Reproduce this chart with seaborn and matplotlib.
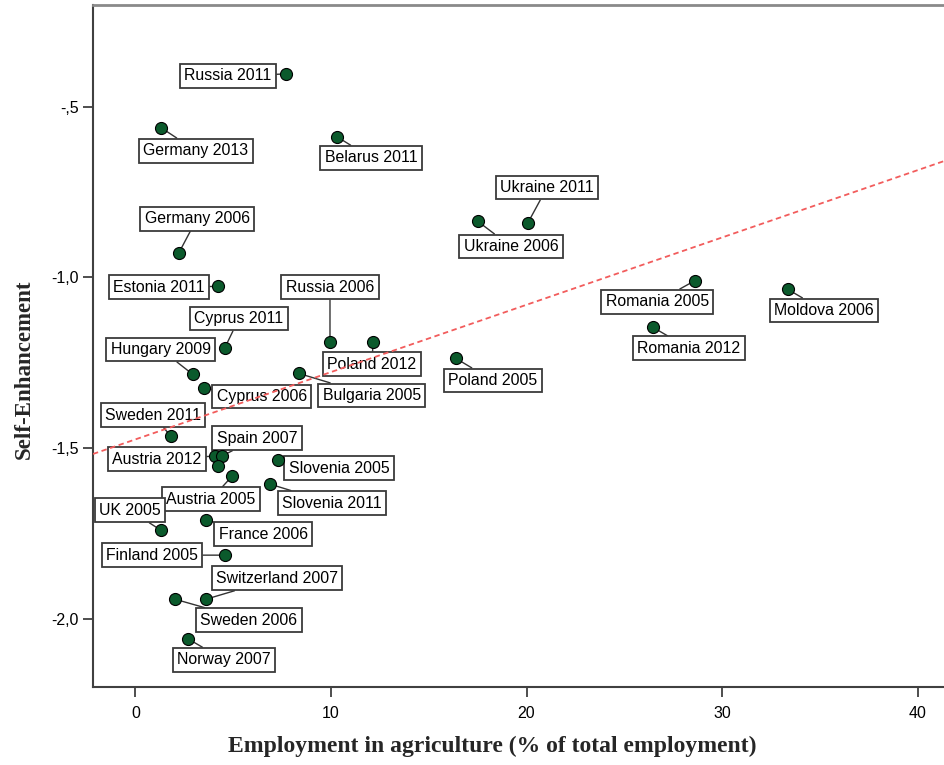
import matplotlib
matplotlib.use('Agg')
import matplotlib.pyplot as plt
import seaborn as sns
import pandas as pd

countries = ['Russia 2011', 'Germany 2013', 'Belarus 2011', 'Ukraine 2011', 'Ukraine 2006',
             'Germany 2006', 'Estonia 2011', 'Romania 2005', 'Moldova 2006', 'Romania 2012',
             'Russia 2006', 'Poland 2012', 'Cyprus 2011', 'Poland 2005', 'Hungary 2009',
             'Bulgaria 2005', 'Cyprus 2006', 'Sweden 2011', 'Austria 2012', 'Spain 2007',
             '', 'Slovenia 2005', 'Austria 2005', 'Slovenia 2011', 'UK 2005',
             'France 2006', 'Finland 2005', 'Switzerland 2007', 'Sweden 2006', 'Norway 2007']
agri_employment = [7.70, 1.30, 10.31, 20.08, 17.52,
                   2.23, 4.22, 28.62, 33.37, 26.47,
                   9.95, 12.15, 4.58, 16.39, 2.94,
                   8.36, 3.50, 1.82, 4.07, 4.42,
                   4.22, 7.29, 4.94, 6.88, 1.30,
                   3.61, 4.58, 3.61, 2.02, 2.69]
self_enhancement = [-0.404, -0.561, -0.588, -0.839, -0.836,
                    -0.927, -1.026, -1.009, -1.035, -1.146,
                    -1.190, -1.190, -1.205, -1.237, -1.284,
                    -1.281, -1.325, -1.465, -1.523, -1.523,
                    -1.553, -1.535, -1.582, -1.605, -1.740,
                    -1.711, -1.813, -1.942, -1.942, -2.058]

x_ticks = [0, 10, 20, 30, 40]
x_tick_labels = ['0', '10', '20', '30', '40']
y_ticks = [-2.0, -1.5, -1.0, -0.5]
y_tick_labels = ['-2,0', '-1,5', '-1,0', '-,5']

# where each label box sits relative to its point (pixels, right / up)
label_offsets = [(-58, -2), (35, -23), (34, -21), (19, 35), (33, -25),
                 (18, 34), (-59, -1), (-38, -21), (36, -21), (36, -21),
                 (0, 55), (-1, -22), (14, 29), (37, -22), (-32, 25),
                 (73, -22), (58, -8), (-18, 21), (-58, -3), (35, 18),
                 (0, 0), (61, -8), (-21, -23), (62, -19), (-31, 20),
                 (57, -14), (-73, 0), (71, 21), (74, -21), (36, -21)]

df = pd.DataFrame({'country': countries, 'agri': agri_employment, 'se': self_enhancement})

sns.set_theme(style='white')
plt.rcParams['font.family'] = ['Liberation Sans', 'DejaVu Sans']

fig = plt.figure(figsize=(9.44, 7.65), dpi=100)
ax = fig.add_axes([0.0985, 0.102, 0.9015, 0.8915])
ax.set_xlim(-2.17, 41.35)
ax.set_ylim(-2.199, -0.202)

sns.scatterplot(data=df, x='agri', y='se', s=75, color='#0b5a2c', edgecolor='black',
                linewidth=0.8, zorder=5, ax=ax)
sns.regplot(data=df, x='agri', y='se', scatter=False, ci=None, truncate=False,
            line_kws=dict(color='#f25c5c', lw=1.3, ls=(0, (3, 2)), zorder=4), ax=ax)
ax.set_xlim(-2.17, 41.35)
ax.set_ylim(-2.199, -0.202)

# boxed point labels with leader lines
for name, x, y, (dx, dy) in zip(countries, agri_employment, self_enhancement, label_offsets):
    if not name:
        continue
    ax.annotate(name, xy=(x, y), xytext=(dx, dy), textcoords='offset pixels',
                ha='center', va='center', fontsize=11.4, color='black',
                bbox=dict(boxstyle='square,pad=0.28', fc='white', ec='#3a3a3a', lw=1.3),
                arrowprops=dict(arrowstyle='-', color='#333333', lw=1, shrinkA=0, shrinkB=4),
                zorder=3)

ax.set_xticks(x_ticks)
ax.set_xticklabels(x_tick_labels)
ax.set_yticks(y_ticks)
ax.set_yticklabels(y_tick_labels)
ax.tick_params(direction='out', length=7, width=1.3, color='#404040', labelsize=11.5,
               labelcolor='black', bottom=True, left=True)
ax.tick_params(axis='x', pad=7)

ax.spines['right'].set_visible(False)
ax.spines['top'].set_color('#8a8a8a')
ax.spines['top'].set_linewidth(2)
for side in ['left', 'bottom']:
    ax.spines[side].set_color('#404040')
    ax.spines[side].set_linewidth(1.5)

ax.set_xlabel('Employment in agriculture (% of total employment)', fontsize=17,
              fontweight='bold', family='Liberation Serif')
ax.set_ylabel('Self-Enhancement', fontsize=16.5, fontweight='bold', family='Liberation Serif')
ax.xaxis.set_label_coords(0.469, -0.072)
ax.yaxis.set_label_coords(-0.068, 0.466)
ax.grid(False)

plt.savefig('out.png', dpi=100)
